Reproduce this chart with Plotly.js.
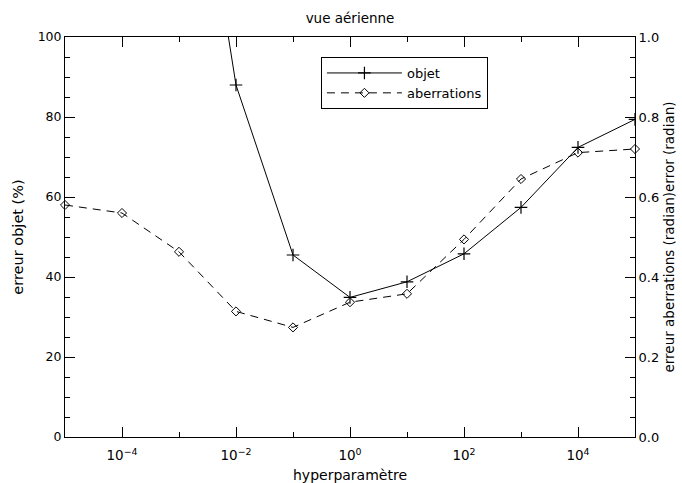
<!DOCTYPE html>
<html><head><meta charset="utf-8">
<script src="https://cdn.plot.ly/plotly-3.0.1.min.js"></script>
<style>body{margin:0;background:#fff}</style>
</head><body>
<div id="chart" style="width:682px;height:483px"></div>
<script>
// Data
const hyperObjet = [1e-3, 1e-2, 1e-1, 1e0, 1e1, 1e2, 1e3, 1e4, 1e5];
const erreurObjet = [178, 88, 45.5, 34.9, 38.8, 45.8, 57.4, 72.4, 79.4];
const hyperAberr = [1e-5, 1e-4, 1e-3, 1e-2, 1e-1, 1e0, 1e1, 1e2, 1e3, 1e4, 1e5];
const erreurAberr = [0.58, 0.56, 0.463, 0.314, 0.274, 0.337, 0.358, 0.494, 0.645, 0.711, 0.72];
const xMajorTicks = [1e-4, 1e-2, 1e0, 1e2, 1e4];
const xTickText = ['10<sup>−4</sup>', '10<sup>−2</sup>', '10<sup>0</sup>', '10<sup>2</sup>', '10<sup>4</sup>'];
const xMinorTicks = [1e-5, 1e-3, 1e-1, 1e1, 1e3, 1e5];

const fam = 'DejaVu Sans, sans-serif';
const black = '#000';

const traces = [
  {x: hyperObjet, y: erreurObjet, name: 'objet', type: 'scatter', mode: 'lines+markers',
   line: {color: black, width: 1}, marker: {symbol: 'cross-thin-open', size: 9, color: black, line: {width: 1.2, color: black}},
   xaxis: 'x', yaxis: 'y'},
  {x: hyperAberr, y: erreurAberr, name: 'aberrations', type: 'scatter', mode: 'lines+markers',
   line: {color: black, width: 1, dash: '8px,6px'}, marker: {symbol: 'diamond-open', size: 7, color: black, line: {width: 1, color: black}},
   cliponaxis: false, xaxis: 'x', yaxis: 'y2'}
];

const layout = {
  width: 682, height: 483,
  margin: {l: 65, r: 47, t: 37, b: 46, pad: 0},
  paper_bgcolor: '#fff', plot_bgcolor: '#fff',
  font: {family: fam, size: 12, color: black},
  showlegend: true,
  title: {text: 'vue aérienne', x: 0.5, xref: 'paper', y: 0.962, yanchor: 'middle', font: {family: fam, size: 13.5, color: black}},
  xaxis: {type: 'log', range: [-5, 5], showgrid: false, zeroline: false,
    showline: true, linecolor: black, linewidth: 1, mirror: 'ticks',
    ticks: 'inside', ticklen: 10, tickcolor: black, tickwidth: 1,
    tickmode: 'array', tickvals: xMajorTicks, ticktext: xTickText,
    ticklabelstandoff: 6,
    minor: {tickmode: 'array', tickvals: xMinorTicks, ticks: 'inside', ticklen: 5, tickcolor: black, showgrid: false},
    tickfont: {family: fam, size: 13.5, color: black},
    title: {text: 'hyperparamètre', standoff: 7, font: {family: fam, size: 14, color: black}}},
  yaxis: {range: [0, 100], showgrid: false, zeroline: false,
    showline: true, linecolor: black, linewidth: 1,
    ticks: 'inside', ticklen: 10, tickcolor: black, dtick: 20, tick0: 0,
    minor: {dtick: 5, ticks: 'inside', ticklen: 5, tickcolor: black, showgrid: false},
    tickfont: {family: fam, size: 12.5, color: black},
    title: {text: 'erreur objet (%)', standoff: 10, font: {family: fam, size: 14.5, color: black}}},
  yaxis2: {range: [0, 1], overlaying: 'y', side: 'right', showgrid: false, zeroline: false,
    showline: true, linecolor: black, linewidth: 1,
    ticks: 'inside', ticklen: 10, tickcolor: black, dtick: 0.2, tick0: 0, tickformat: '.1f',
    minor: {dtick: 0.05, ticks: 'inside', ticklen: 5, tickcolor: black, showgrid: false},
    tickfont: {family: fam, size: 13, color: black},
    title: {text: 'erreur aberrations (radian)error (radian)', standoff: 6, font: {family: fam, size: 13.5, color: black}}},
  legend: {x: 0.449, y: 0.95, xanchor: 'left', yanchor: 'top', bordercolor: black, borderwidth: 1,
    bgcolor: '#fff', itemwidth: 75, font: {family: fam, size: 13, color: black}, tracegroupgap: 0}
};

Plotly.newPlot('chart', traces, layout, {displayModeBar: false, staticPlot: true});
</script>
</body></html>
